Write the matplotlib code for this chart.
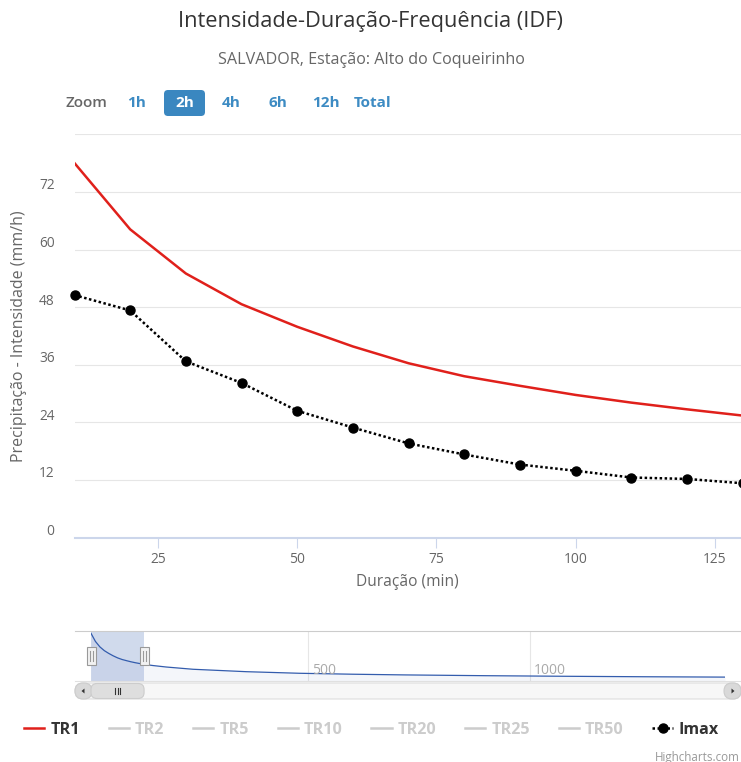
import matplotlib
matplotlib.use('Agg')
import matplotlib.pyplot as plt
from matplotlib.patches import FancyBboxPatch, Rectangle, Polygon
from matplotlib.lines import Line2D
from matplotlib.transforms import ScaledTranslation

# ---------------- data ----------------
duracao_tr1 = [10, 20, 30, 40, 50, 60, 70, 80, 90, 100, 110, 120, 130, 140, 150,
               180, 240, 360, 480, 600, 720, 900, 1080, 1260, 1440]
tr1 = [78.0, 64.2, 55.0, 48.6, 43.9, 39.8, 36.3, 33.6, 31.6, 29.7, 28.1, 26.7, 25.4, 24.3, 23.3,
       20.8, 17.0, 12.9, 10.2, 8.6, 7.4, 6.1, 5.1, 4.3, 3.7]
duracao_imax = [10, 20, 30, 40, 50, 60, 70, 80, 90, 100, 110, 120, 130]
imax = [50.5, 47.3, 36.7, 32.2, 26.4, 22.9, 19.6, 17.3, 15.2, 13.9, 12.5, 12.2, 11.3]

y_ticks = [0, 12, 24, 36, 48, 60, 72, 84]
x_ticks = [25, 50, 75, 100, 125]
nav_ticks = [500, 1000]
zoom_buttons = ['1h', '2h', '4h', '6h', '12h', 'Total']
zoom_selected = '2h'
legend_labels = ['TR1', 'TR2', 'TR5', 'TR10', 'TR20', 'TR25', 'TR50', 'Imax']
legend_active = ['TR1', 'Imax']

title = 'Intensidade-Duração-Frequência (IDF)'
subtitle = 'SALVADOR, Estação: Alto do Coqueirinho'
ytitle = 'Precipitação - Intensidade (mm/h)'
xtitle = 'Duração (min)'

# ---------------- styling ----------------
W, H = 741, 762
plt.rcParams['font.family'] = ['Open Sans', 'DejaVu Sans']
RED = '#e0201b'
GRAY_TXT = '#666666'
BTN_BLUE = '#3d8bc3'


def fx(x):
    return x / W


def fy(y):
    return 1 - y / H


fig = plt.figure(figsize=(W / 100, H / 100), dpi=100)

# overlay axes in pixel coordinates for decorations
ov = fig.add_axes([0, 0, 1, 1], zorder=5)
ov.set_xlim(0, W)
ov.set_ylim(H, 0)
ov.axis('off')
ov.patch.set_alpha(0)

# ---------------- main plot ----------------
L, R, T, B = 74.5, 741, 134.3, 537.5
ax = fig.add_axes([fx(L), fy(B), (R - L) / W, (B - T) / H])
ax.set_xlim(10, 129.7)
ax.set_ylim(0, 84)
for s in ['top', 'right', 'left']:
    ax.spines[s].set_visible(False)
ax.spines['bottom'].set_color('#ccd6eb')
ax.spines['bottom'].set_linewidth(1.5)
ax.set_yticks(y_ticks)
ax.set_yticklabels([])
ax.yaxis.grid(True, color='#e6e6e6', lw=0.8)
ax.set_axisbelow(True)
ax.tick_params(axis='y', length=0)
ax.set_xticks(x_ticks)
ax.set_xticklabels([str(v) for v in x_ticks])
ax.tick_params(axis='x', length=7.2, width=0.8, color='#ccd6eb', pad=3.5,
               labelsize=9.9, labelcolor=GRAY_TXT)

ytr = ax.get_yaxis_transform() + ScaledTranslation(-20 / 100, 6 / 100, fig.dpi_scale_trans)
for v in y_ticks[:-1]:
    ax.text(0, v, str(v), transform=ytr, ha='right', va='center',
            fontsize=9.9, color=GRAY_TXT)

ax.plot(duracao_tr1, tr1, color=RED, lw=1.8, zorder=3)
ax.plot(duracao_imax, imax, color='black', lw=1.8, ls=(0, (1, 1)),
        marker='o', ms=6.5, zorder=4, clip_on=False)

# titles
fig.text(fx(371), fy(22), title, ha='center', va='center', fontsize=15.7, color='#333333')
fig.text(fx(371), fy(60), subtitle, ha='center', va='center', fontsize=11.6, color=GRAY_TXT)
fig.text(fx(19), fy(336), ytitle, ha='center', va='center', rotation=90,
         fontsize=11.5, color=GRAY_TXT)
fig.text(fx((L + R) / 2), fy(582), xtitle, ha='center', va='center',
         fontsize=11.2, color=GRAY_TXT)

# ---------------- zoom buttons ----------------
ov.text(66, 103, 'Zoom', ha='left', va='center', fontsize=11, color=GRAY_TXT,
        fontweight='semibold')
btn_centers = [136.5, 184.5, 231, 278, 325.5, 373]
for lab, cx in zip(zoom_buttons, btn_centers):
    if lab == zoom_selected:
        ov.add_patch(FancyBboxPatch((cx - 20.5, 90), 41, 26,
                                    boxstyle='round,pad=0,rounding_size=4',
                                    fc='#3a87c0', ec='none'))
        ov.text(cx, 103, lab, ha='center', va='center', fontsize=11,
                fontweight='bold', color='white')
    else:
        ov.text(cx, 103, lab, ha='center', va='center', fontsize=11,
                fontweight='bold', color=BTN_BLUE)

# ---------------- navigator ----------------
NL, NR, NT, NB = 91, 725, 631, 681
nav = fig.add_axes([fx(NL), fy(NB), (NR - NL) / W, (NB - NT) / H], zorder=2)
nav.set_xlim(min(duracao_tr1), max(duracao_tr1))
nav_ylim = (-2.9, 81.9)
nav.set_ylim(*nav_ylim)
for s in nav.spines.values():
    s.set_visible(False)
nav.set_xticks(nav_ticks)
nav.set_yticks([])
nav.tick_params(axis='x', length=0, labelbottom=False)
nav.xaxis.grid(True, color='#e6e6e6', lw=0.8)
nav.set_axisbelow(True)
nav.patch.set_alpha(0)
nav.fill_between(duracao_tr1, tr1, nav_ylim[0], color=(51 / 255, 92 / 255, 173 / 255, 0.05), lw=0)
nav.plot(duracao_tr1, tr1, color='#335cad', lw=0.9)
xtr = nav.get_xaxis_transform() + ScaledTranslation(4 / 100, 0, fig.dpi_scale_trans)
for v in nav_ticks:
    nav.text(v, 0.2, str(v), transform=xtr, ha='left', va='center', fontsize=10,
             color='#aaaaaa')
sel0, sel1 = ax.get_xlim()
nav.axvspan(sel0, sel1, color=(102 / 255, 133 / 255, 194 / 255, 0.3), lw=0)

# outline lines
ov.add_line(Line2D([75, 741], [NT, NT], color='#cccccc', lw=0.8))
ov.add_line(Line2D([75, 741], [NB, NB], color='#e0e0e0', lw=0.8))


def nav_px(v):
    x0, x1 = nav.get_xlim()
    return NL + (v - x0) / (x1 - x0) * (NR - NL)


# scrollbar
ov.add_patch(FancyBboxPatch((75, 683), 666, 16, boxstyle='round,pad=0,rounding_size=8',
                            fc='#f7f7f7', ec='#dddddd', lw=0.8))
ov.add_patch(FancyBboxPatch((75, 683), 17, 16, boxstyle='round,pad=0,rounding_size=8',
                            fc='#d9d9d9', ec='#cccccc', lw=0.8))
ov.add_patch(FancyBboxPatch((724, 683), 17, 16, boxstyle='round,pad=0,rounding_size=8',
                            fc='#d9d9d9', ec='#cccccc', lw=0.8))
ov.add_patch(Polygon([[81.5, 691], [84.5, 688.5], [84.5, 693.5]], closed=True, fc='#333333', ec='none'))
ov.add_patch(Polygon([[734.5, 691], [731.5, 688.5], [731.5, 693.5]], closed=True, fc='#333333', ec='none'))
p0, p1 = nav_px(sel0), nav_px(sel1)
ov.add_patch(FancyBboxPatch((p0, 683.5), p1 - p0, 15, boxstyle='round,pad=0,rounding_size=6',
                            fc='#dedede', ec='#cccccc', lw=0.8))
cx = (p0 + p1) / 2
for dx in (-2.5, 0, 2.5):
    ov.add_line(Line2D([cx + dx, cx + dx], [688, 694], color='#333333', lw=0.8))

# handles
for px in (p0, p1):
    ov.add_patch(Rectangle((px - 4.5, 647), 9, 18, fc='#f2f2f2', ec='#999999', lw=0.8))
    for dx in (-1.5, 1.5):
        ov.add_line(Line2D([px + dx, px + dx], [651, 661], color='#999999', lw=0.8))

# ---------------- legend ----------------
handles = []
for lab in legend_labels:
    if lab == 'Imax':
        handles.append(Line2D([], [], color='black', lw=1.8, ls=(0, (1, 1)),
                              marker='o', ms=6.5))
    elif lab in legend_active:
        handles.append(Line2D([], [], color=RED, lw=1.8))
    else:
        handles.append(Line2D([], [], color='#cccccc', lw=1.8))
leg = fig.legend(handles, legend_labels, loc='center left', bbox_to_anchor=(fx(24), fy(730)),
                 ncol=len(legend_labels), frameon=False,
                 prop={'weight': 'bold', 'size': 11.6},
                 handlelength=1.25, handletextpad=0.38, columnspacing=1.79,
                 borderpad=0, borderaxespad=0)
for txt, lab in zip(leg.get_texts(), legend_labels):
    txt.set_color('#333333' if lab in legend_active else '#cccccc')

fig.text(fx(655), fy(757), 'Highcharts.com', ha='left', va='center', fontsize=8.4,
         color='#999999')

fig.savefig('out.png', dpi=100)
